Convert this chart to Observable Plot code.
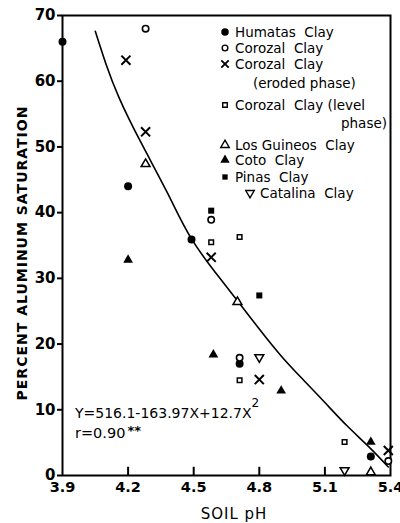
<!DOCTYPE html>
<html>
<head>
<meta charset="utf-8">
<script src="https://cdn.jsdelivr.net/npm/d3@7"></script>
<script src="https://cdn.jsdelivr.net/npm/@observablehq/plot@0.6"></script>
<style>
  html, body { margin: 0; padding: 0; background: #fff; }
  svg { display: block; }
</style>
</head>
<body>
<div id="chart"></div>
<script>
// ---- axis ticks ----
const xTicks = [3.9, 4.2, 4.5, 4.8, 5.1, 5.4];
const xTickLabels = ["3.9", "4.2", "4.5", "4.8", "5.1", "5.4"];
const yTicks = [0, 10, 20, 30, 40, 50, 60, 70];

// ---- series (soil pH, % Al saturation) ----
const humatasX = [3.9, 4.2, 4.49, 4.71, 5.31];
const humatasY = [66, 44, 35.9, 17.0, 2.9];
const corozalX = [4.28, 4.58, 4.71, 5.39];
const corozalY = [68, 38.9, 17.9, 2.2];
const erodedX = [4.19, 4.28, 4.58, 4.80, 5.39];
const erodedY = [63.2, 52.3, 33.2, 14.6, 3.8];
const levelX = [4.58, 4.71, 4.71, 5.19];
const levelY = [35.5, 36.3, 14.5, 5.1];
const guineosX = [4.28, 4.70, 5.31];
const guineosY = [47.4, 26.4, 0.5];
const cotoX = [4.20, 4.59, 4.90, 5.31];
const cotoY = [32.8, 18.4, 12.9, 5.1];
const pinasX = [4.58, 4.80];
const pinasY = [40.3, 27.4];
const catalinaX = [4.80, 5.19];
const catalinaY = [18.0, 0.8];

// ---- fitted curve ----
const curveX = [4.05, 4.10, 4.16, 4.26, 4.38, 4.49, 4.62, 4.70, 4.80, 4.90, 5.00, 5.10, 5.20, 5.30, 5.39];
const curveY = [67.6, 62.5, 57.4, 50.6, 43.0, 36.0, 30.0, 26.6, 22.3, 18.2, 14.6, 11.1, 7.6, 4.4, 1.3];

const legendNames = ["Humatas  Clay", "Corozal  Clay", "Corozal  Clay", "Corozal  Clay (level", "Los Guineos  Clay", "Coto  Clay", "Pinas  Clay", "Catalina  Clay"];
const equationText = "Y=516.1-163.97X+12.7X";
const rText = "r=0.90";

const zip = (xs, ys) => xs.map((x, i) => ({x, y: ys[i]}));

const invTriangle = {
  draw(context, size) {
    const y = -Math.sqrt(size / (Math.sqrt(3) * 3));
    context.moveTo(0, -y * 2);
    context.lineTo(-Math.sqrt(3) * y, y);
    context.lineTo(Math.sqrt(3) * y, y);
    context.closePath();
  }
};

const FONT = "DejaVu Sans";

const plot = Plot.plot({
  width: 400,
  height: 523,
  marginLeft: 62,
  marginRight: 10,
  marginTop: 15,
  marginBottom: 48,
  style: {fontFamily: FONT, fontSize: "14px", color: "black", background: "white"},
  x: {domain: [3.9, 5.4]},
  y: {domain: [0, 70]},
  marks: [
    Plot.axisY(yTicks, {tickSize: 5, tickPadding: 2, fontSize: 15, fontWeight: "bold", strokeWidth: 2, label: null}),
    Plot.axisX(xTicks, {tickSize: 0, tickPadding: 6, fontSize: 14.5, fontWeight: "bold", tickFormat: (d, i) => xTickLabels[i], label: null}),
    Plot.ruleX(xTicks.slice(1, -1), {y1: 0, y2: 1.25, strokeWidth: 2}),
    Plot.frame({strokeWidth: 2}),
    Plot.line(zip(curveX, curveY), {x: "x", y: "y", curve: "natural", strokeWidth: 1.6}),
    Plot.dot(zip(humatasX, humatasY), {x: "x", y: "y", r: 4, fill: "black", stroke: "none"}),
    Plot.dot(zip(corozalX, corozalY), {x: "x", y: "y", r: 3.2, fill: "white", stroke: "black", strokeWidth: 1.6}),
    Plot.dot(zip(erodedX, erodedY), {x: "x", y: "y", symbol: "times", r: 4.2, stroke: "black", strokeWidth: 2}),
    Plot.dot(zip(levelX, levelY), {x: "x", y: "y", symbol: "square", r: 2.6, fill: "white", stroke: "black", strokeWidth: 1.5}),
    Plot.dot(zip(guineosX, guineosY), {x: "x", y: "y", symbol: "triangle", r: 3.3, fill: "white", stroke: "black", strokeWidth: 1.5}),
    Plot.dot(zip(cotoX, cotoY), {x: "x", y: "y", symbol: "triangle", r: 3.6, fill: "black", stroke: "none"}),
    Plot.dot(zip(pinasX, pinasY), {x: "x", y: "y", symbol: "square", r: 3.4, fill: "black", stroke: "none"}),
    Plot.dot(zip(catalinaX, catalinaY), {x: "x", y: "y", symbol: invTriangle, r: 3.3, fill: "white", stroke: "black", strokeWidth: 1.5})
  ]
});

document.getElementById("chart").appendChild(plot);

// ---- annotations: legend, equation, axis titles ----
const svg = d3.select(plot);
const g = svg.append("g").attr("font-family", FONT).attr("fill", "black").attr("text-anchor", "start");

const sym = (type, size) => d3.symbol().type(type).size(size)();
const legendRows = [
  {y: 32, name: legendNames[0], mx: 225, path: sym(d3.symbolCircle, Math.PI * 14), fill: "black", stroke: "none"},
  {y: 48, name: legendNames[1], mx: 225, path: sym(d3.symbolCircle, Math.PI * 8), fill: "white", stroke: "black"},
  {y: 64, name: legendNames[2], mx: 225, path: sym(d3.symbolTimes, Math.PI * 12), fill: "none", stroke: "black", sw: 1.8},
  {y: 105, name: legendNames[3], mx: 225, path: sym(d3.symbolSquare, Math.PI * 6.5), fill: "white", stroke: "black"},
  {y: 145, name: legendNames[4], mx: 225, path: sym(d3.symbolTriangle, Math.PI * 10), fill: "white", stroke: "black"},
  {y: 160, name: legendNames[5], mx: 225, path: sym(d3.symbolTriangle, Math.PI * 12), fill: "black", stroke: "none"},
  {y: 177, name: legendNames[6], mx: 225, path: sym(d3.symbolSquare, Math.PI * 9), fill: "black", stroke: "none"},
  {y: 193, name: legendNames[7], mx: 250, path: sym(invTriangle, Math.PI * 10), fill: "white", stroke: "black"}
];
legendRows.forEach(r => {
  g.append("path").attr("d", r.path).attr("transform", `translate(${r.mx},${r.y})`)
    .attr("fill", r.fill).attr("stroke", r.stroke).attr("stroke-width", r.sw || 1.4);
  g.append("text").attr("x", r.mx + 10).attr("y", r.y).attr("dy", "0.36em")
    .attr("font-size", 13.5).style("white-space", "pre").text(r.name);
});
g.append("text").attr("x", 253).attr("y", 83).attr("dy", "0.36em").attr("font-size", 13.5).text("(eroded phase)");
g.append("text").attr("x", 387).attr("y", 123).attr("dy", "0.36em").attr("font-size", 13.5).attr("text-anchor", "end").text("phase)");

const eq = g.append("text").attr("x", 75).attr("y", 413).attr("dy", "0.36em").attr("font-size", 14);
eq.append("tspan").text(equationText);
eq.append("tspan").attr("dy", "-0.9em").attr("font-size", 12).text("2");
const rt = g.append("text").attr("x", 75).attr("y", 433).attr("dy", "0.36em").attr("font-size", 14.5);
rt.append("tspan").text(rText);
rt.append("tspan").attr("dx", 2).attr("dy", "-0.25em").attr("font-size", 13).attr("font-weight", "bold").text("**");

g.append("text").attr("transform", "translate(22,253) rotate(-90)").attr("text-anchor", "middle")
  .attr("dy", "0.36em").attr("font-size", 14).attr("font-weight", "bold").attr("letter-spacing", "1px")
  .text("PERCENT ALUMINUM SATURATION");
g.append("text").attr("x", 234).attr("y", 514).attr("text-anchor", "middle")
  .attr("dy", "0.36em").attr("font-size", 15).attr("letter-spacing", "1px").text("SOIL pH");
</script>
</body>
</html>
